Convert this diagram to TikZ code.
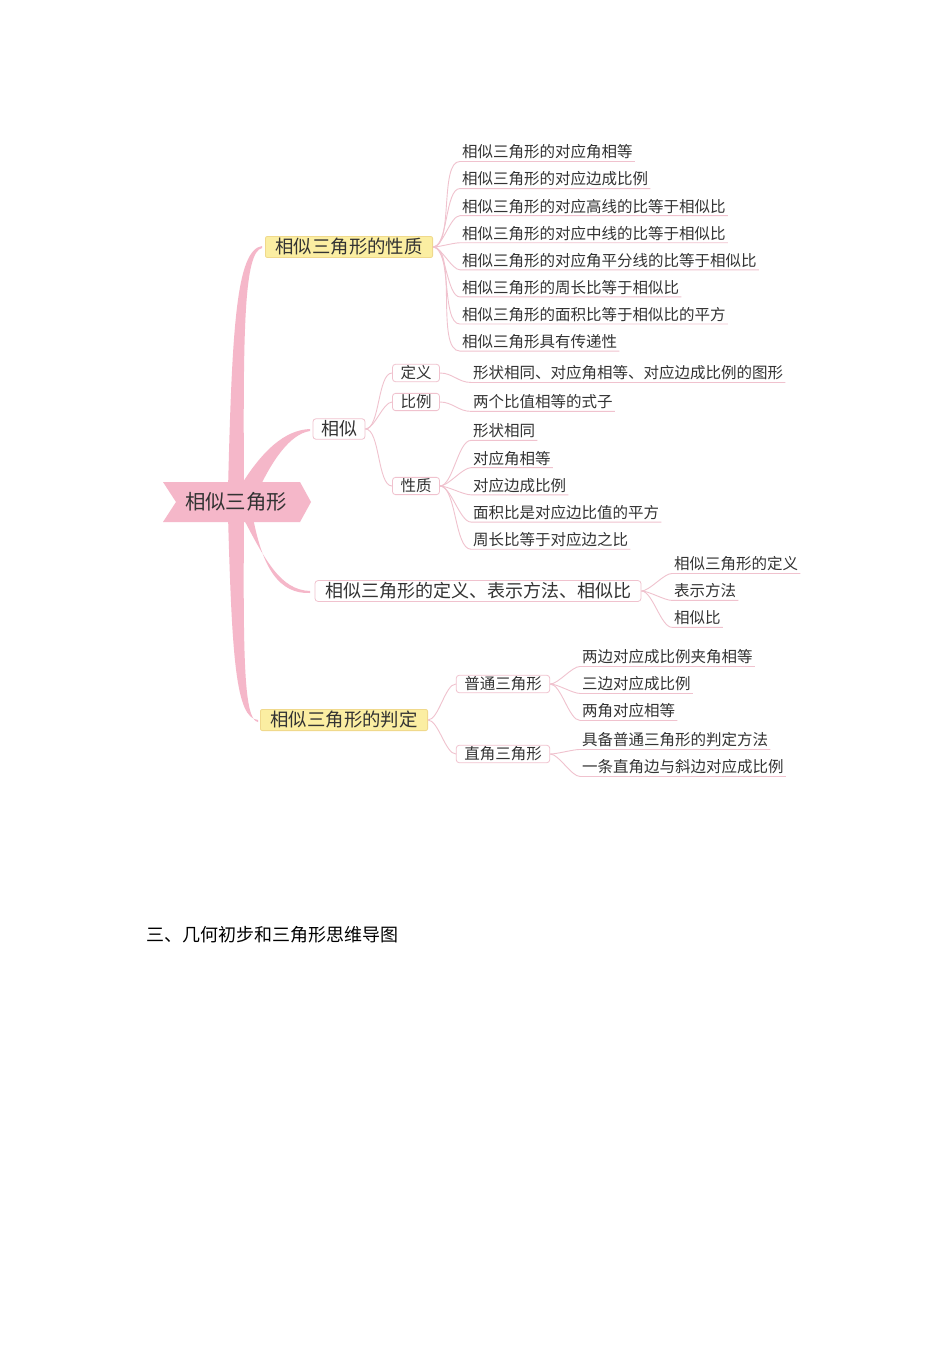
\documentclass[tikz,border=0pt]{standalone}
\usepackage{fontspec}
\setmainfont{Noto Sans CJK SC}
\begin{document}
\begin{tikzpicture}[x=1pt,y=-1pt,
  trunk/.style={fill=pinkA,draw=none},
  conn/.style={draw=lineP,line width=0.9pt},
  leaf/.style={anchor=west,inner xsep=2pt,inner ysep=2pt,font=\fontsize{15.5}{16}\selectfont,text=black!80},
  ybox/.style={rounded corners=2pt,fill=yelF,draw=yelD,line width=0.8pt,inner xsep=10pt,inner ysep=2pt,font=\fontsize{18.4}{19}\selectfont,text=black!80},
  wbox/.style={rounded corners=3pt,fill=white,draw=lineP,line width=0.8pt,inner xsep=8pt,inner ysep=2pt,font=\fontsize{18}{19}\selectfont,text=black!80},
  sbox/.style={rounded corners=3pt,fill=white,draw=lineP,line width=0.8pt,inner xsep=8pt,inner ysep=1.5pt,font=\fontsize{15.5}{16}\selectfont,text=black!80}
]
\definecolor{pinkA}{HTML}{F5B7C9}
\definecolor{lineP}{HTML}{F0C2CE}
\definecolor{yelF}{HTML}{FBEEA2}
\definecolor{yelD}{HTML}{F0D98C}
\useasboundingbox (0,0) rectangle (950,1346);
\fill[white] (0,0) rectangle (950,1346);
% trunk shapes
\fill[trunk] (228,490) .. controls (232,330) and (236,250) .. (262,246) -- (262,248) .. controls (244,252) and (243,330) .. (244,490) -- cycle;
\fill[trunk] (228,515) .. controls (232,660) and (236,718) .. (258,720) -- (258,722) .. controls (244,720) and (243,660) .. (244,515) -- cycle;
\fill[trunk] (238,490) .. controls (262,450) and (285,430) .. (310,429) -- (310,431) .. controls (290,434) and (272,460) .. (256,495) -- cycle;
\fill[trunk] (240,512) .. controls (265,560) and (280,590) .. (310,591) -- (310,593) .. controls (280,594) and (262,570) .. (252,512) -- cycle;
% center
\fill[pinkA] (163,482) -- (300,482) -- (311,502) -- (300,522) -- (163,522) -- (176,502) -- cycle;
\node[font=\fontsize{20.4}{21}\selectfont,text=black!80] (c) at (236,502) {相似三角形};
% main nodes
\node[ybox] (xz) at (349,247) {相似三角形的性质};
\node[wbox] (xs) at (339,429) {相似};
\node[wbox,inner xsep=10pt] (dy) at (478,591) {相似三角形的定义、表示方法、相似比};
\node[ybox] (pd) at (344,720) {相似三角形的判定};
% xz leaves
\foreach \t [count=\i] in {相似三角形的对应角相等,相似三角形的对应边成比例,相似三角形的对应高线的比等于相似比,相似三角形的对应中线的比等于相似比,相似三角形的对应角平分线的比等于相似比,相似三角形的周长比等于相似比,相似三角形的面积比等于相似比的平方,相似三角形具有传递性}{
  \node[leaf] (a\i) at (460,{152+27.1*(\i-1)}) {\t};
  \draw[conn] (xz.east) to[out=0,in=180,looseness=0.6] (a\i.south west) -- (a\i.south east);
}
% xs children
\node[sbox] (b1) at (416,373) {定义};
\node[sbox] (b2) at (416,402) {比例};
\node[sbox] (b3) at (416,486) {性质};
\foreach \i in {1,2,3}{\draw[conn] (xs.east) to[out=0,in=180,looseness=0.6] (b\i.west);}
\node[leaf] (d1) at (471,373) {形状相同、对应角相等、对应边成比例的图形};
\draw[conn] (b1.east) to[out=0,in=180] (d1.south west) -- (d1.south east);
\node[leaf] (d2) at (471,402) {两个比值相等的式子};
\draw[conn] (b2.east) to[out=0,in=180] (d2.south west) -- (d2.south east);
\foreach \t [count=\i] in {形状相同,对应角相等,对应边成比例,面积比是对应边比值的平方,周长比等于对应边之比}{
  \node[leaf] (e\i) at (471,{431+27.2*(\i-1)}) {\t};
  \draw[conn] (b3.east) to[out=0,in=180,looseness=0.6] (e\i.south west) -- (e\i.south east);
}
% dy children
\foreach \t [count=\i] in {相似三角形的定义,表示方法,相似比}{
  \node[leaf] (f\i) at (672,{564+27*(\i-1)}) {\t};
  \draw[conn] (dy.east) to[out=0,in=180,looseness=0.6] (f\i.south west) -- (f\i.south east);
}
% pd children
\node[sbox] (g1) at (503,684) {普通三角形};
\node[sbox] (g2) at (503,754) {直角三角形};
\foreach \i in {1,2}{\draw[conn] (pd.east) to[out=0,in=180,looseness=0.6] (g\i.west);}
\foreach \t [count=\i] in {两边对应成比例夹角相等,三边对应成比例,两角对应相等}{
  \node[leaf] (h\i) at (580,{657+27*(\i-1)}) {\t};
  \draw[conn] (g1.east) to[out=0,in=180,looseness=0.6] (h\i.south west) -- (h\i.south east);
}
\foreach \t [count=\i] in {具备普通三角形的判定方法,一条直角边与斜边对应成比例}{
  \node[leaf] (k\i) at (580,{740+27*(\i-1)}) {\t};
  \draw[conn] (g2.east) to[out=0,in=180,looseness=0.6] (k\i.south west) -- (k\i.south east);
}
% caption
\node[anchor=west,font=\fontsize{18}{19}\selectfont,text=black] (cap) at (143,935) {三、几何初步和三角形思维导图};
\end{tikzpicture}
\end{document}
